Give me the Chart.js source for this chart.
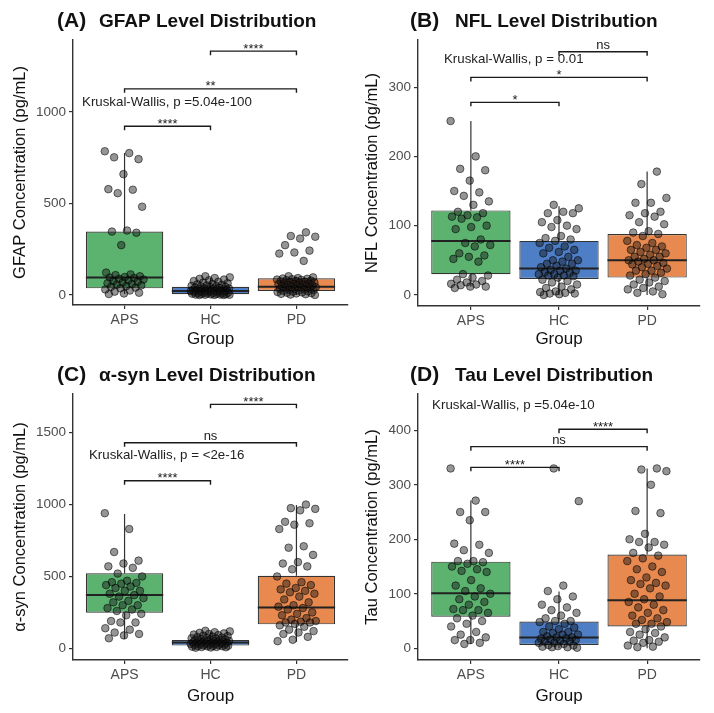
<!DOCTYPE html>
<html>
<head>
<meta charset="utf-8">
<script src="https://cdn.jsdelivr.net/npm/chart.js@4.4.0/dist/chart.umd.min.js"></script>
<style>
  body { margin: 0; background: #fff; width: 714px; height: 713px; position: relative; overflow: hidden; }
  .panel { position: absolute; width: 357px; }
</style>
</head>
<body>
<div class="panel" style="left:0;top:0;height:356px"><canvas id="chartA" width="357" height="356"></canvas></div>
<div class="panel" style="left:357px;top:0;height:356px"><canvas id="chartB" width="357" height="356"></canvas></div>
<div class="panel" style="left:0;top:355px;height:358px"><canvas id="chartC" width="357" height="358"></canvas></div>
<div class="panel" style="left:357px;top:355px;height:358px"><canvas id="chartD" width="357" height="358"></canvas></div>
<script>
const groups = ['APS', 'HC', 'PD'];
const boxColors = ['#5bb36f', '#4d7ec6', '#e8894f'];

// (A) GFAP
const gfapAPS = [785, 775, 752, 742, 660, 578, 575, 556, 482, 352, 346, 340, 272, 122, 112, 108, 102, 98, 95, 92, 88, 84, 80, 76, 72, 68, 64, 60, 56, 52, 48, 44, 40, 36, 30, 24, 18, 12, 8, 5];
const gfapHC = [102, 96, 92, 88, 84, 80, 76, 72, 68, 64, 60, 58, 55, 52, 50, 48, 46, 44, 42, 40, 38, 36, 35, 34, 32, 30, 29, 28, 27, 26, 25, 24, 23, 22, 21, 20, 19, 18, 17, 16, 15, 14, 13, 12, 11, 10, 9, 8, 7, 6, 5, 4, 3, 2, 2, 1, 1, 0, 0, 0];
const gfapPD = [342, 322, 318, 308, 272, 242, 232, 226, 186, 102, 96, 92, 90, 88, 86, 84, 82, 80, 78, 76, 74, 72, 70, 68, 66, 64, 62, 60, 58, 56, 54, 52, 50, 48, 46, 44, 42, 40, 38, 36, 34, 32, 30, 28, 26, 24, 22, 20, 18, 16, 14, 12, 10, 8, 6, 4, 2, 0];
const gfapQ1 = [36, 4, 22];
const gfapMedian = [95, 22, 45];
const gfapQ3 = [347, 45, 91];
const gfapLow = [5, 0, 0];
const gfapHigh = [775, 93, 100];
const gfapTicks = [0, 500, 1000];
const gfapBrackets = [[1, 2, 922, '****'], [1, 3, 1126, '**'], [2, 3, 1332, '****']];

// (B) NFL
const nflAPS = [251, 200, 182, 180, 165, 150, 148, 143, 135, 130, 120, 118, 115, 113, 112, 110, 100, 98, 95, 80, 75, 72, 70, 60, 57, 55, 52, 48, 30, 28, 25, 22, 20, 18, 16, 15, 14, 12, 12, 10];
const nflHC = [130, 125, 120, 118, 118, 108, 105, 100, 98, 95, 85, 82, 80, 78, 75, 70, 68, 65, 62, 60, 55, 50, 50, 48, 45, 45, 42, 40, 38, 36, 35, 35, 33, 32, 30, 30, 28, 28, 27, 25, 22, 20, 18, 15, 12, 10, 8, 5, 4, 3, 2, 2, 1, 0];
const nflPD = [178, 160, 140, 133, 133, 120, 118, 115, 113, 105, 102, 92, 90, 88, 85, 78, 75, 72, 70, 68, 65, 65, 62, 60, 58, 55, 55, 52, 50, 50, 48, 46, 45, 44, 42, 40, 38, 35, 35, 32, 30, 28, 25, 22, 20, 18, 15, 12, 10, 8, 5, 3, 1];
const nflQ1 = [30, 23, 25];
const nflMedian = [78, 38, 50];
const nflQ3 = [122, 78, 88];
const nflLow = [12, 0, 0];
const nflHigh = [251, 128, 178];
const nflTicks = [0, 100, 200, 300];
const nflBrackets = [[1, 2, 278, '*'], [1, 3, 314, '*'], [2, 3, 351, 'ns']];

// (C) alpha-syn
const synAPS = [940, 830, 670, 610, 590, 570, 560, 520, 500, 470, 460, 455, 450, 440, 430, 420, 400, 400, 380, 370, 360, 350, 330, 320, 300, 300, 280, 270, 260, 240, 230, 190, 180, 180, 140, 130, 110, 100, 90, 70];
const synHC = [122, 118, 112, 108, 104, 100, 96, 92, 88, 85, 82, 78, 75, 72, 70, 68, 65, 62, 60, 58, 56, 54, 52, 50, 48, 46, 44, 42, 40, 39, 38, 36, 35, 34, 32, 30, 29, 28, 26, 25, 24, 22, 20, 18, 17, 16, 15, 14, 12, 10, 9, 8, 6, 5];
const synPD = [1000, 975, 970, 960, 880, 870, 860, 830, 710, 700, 650, 600, 590, 570, 550, 500, 460, 450, 440, 420, 410, 400, 390, 380, 360, 340, 320, 300, 290, 280, 270, 250, 240, 230, 210, 200, 190, 185, 180, 180, 170, 160, 150, 130, 120, 110, 100, 80, 60, 50];
const synQ1 = [248, 19, 167];
const synMedian = [371, 40, 285];
const synQ3 = [522, 58, 505];
const synLow = [65, 5, 46];
const synHigh = [934, 115, 997];
const synTicks = [0, 500, 1000, 1500];
const synBrackets = [[1, 2, 1166, '****'], [1, 3, 1430, 'ns'], [2, 3, 1697, '****']];

// (D) Tau
const tauAPS = [330, 271, 250, 250, 235, 192, 190, 180, 175, 160, 160, 158, 155, 150, 145, 142, 140, 125, 115, 110, 105, 100, 95, 90, 85, 80, 72, 70, 70, 65, 60, 55, 50, 45, 40, 30, 25, 20, 15, 15, 10, 8];
const tauHC = [330, 270, 115, 105, 95, 90, 80, 75, 70, 65, 60, 55, 50, 50, 48, 45, 40, 38, 35, 30, 30, 28, 25, 25, 22, 20, 20, 18, 18, 16, 15, 14, 12, 12, 10, 10, 8, 6, 5, 4, 3, 2, 2, 1];
const tauPD = [330, 328, 325, 300, 252, 248, 210, 200, 195, 195, 190, 185, 175, 170, 165, 160, 150, 145, 140, 130, 125, 120, 118, 115, 110, 100, 95, 90, 85, 80, 75, 70, 65, 60, 55, 52, 48, 45, 45, 40, 35, 30, 28, 25, 20, 15, 14, 12, 10, 5, 3, 2];
const tauQ1 = [58, 6, 40];
const tauMedian = [101, 20, 88];
const tauQ3 = [159, 49, 172];
const tauLow = [8, 0, 0];
const tauHigh = [271, 104, 330];
const tauTicks = [0, 100, 200, 300, 400];
const tauBrackets = [[1, 2, 332, '****'], [1, 3, 370, 'ns'], [2, 3, 402, '****']];

const FONT = "'Liberation Sans', Arial, Helvetica, sans-serif";

const panels = [
    { id: 'chartA', tag: '(A)', title: 'GFAP Level Distribution', yTitle: 'GFAP Concentration (pg/mL)',
      values: [gfapAPS, gfapHC, gfapPD], q1: gfapQ1, median: gfapMedian, q3: gfapQ3, low: gfapLow, high: gfapHigh,
      ticks: gfapTicks, brackets: gfapBrackets, kw: 'Kruskal-Wallis, p =5.04e-100', kwX: 0.505, kwY: 1055,
      yMin: -55, yMax: 1393, area: { left: 73, right: 348, top: 40, bottom: 305 }, tagX: 57, titleX: 99, titleY: 27, yTitlePad: 11 },
    { id: 'chartB', tag: '(B)', title: 'NFL Level Distribution', yTitle: 'NFL Concentration (pg/mL)',
      values: [nflAPS, nflHC, nflPD], q1: nflQ1, median: nflMedian, q3: nflQ3, low: nflLow, high: nflHigh,
      ticks: nflTicks, brackets: nflBrackets, kw: 'Kruskal-Wallis, p = 0.01', kwX: 0.695, kwY: 340,
      yMin: -16, yMax: 368, area: { left: 61, right: 343, top: 40, bottom: 306 }, tagX: 53, titleX: 98, titleY: 27, yTitlePad: 6 },
    { id: 'chartC', tag: '(C)', title: 'α-syn Level Distribution', yTitle: 'α-syn Concentration (pg/mL)',
      values: [synAPS, synHC, synPD], q1: synQ1, median: synMedian, q3: synQ3, low: synLow, high: synHigh,
      ticks: synTicks, brackets: synBrackets, kw: 'Kruskal-Wallis, p = <2e-16', kwX: 0.586, kwY: 1345,
      yMin: -81, yMax: 1769, area: { left: 73, right: 348, top: 39, bottom: 305 }, tagX: 57, titleX: 99, titleY: 26, yTitlePad: 11 },
    { id: 'chartD', tag: '(D)', title: 'Tau Level Distribution', yTitle: 'Tau Concentration (pg/mL)',
      values: [tauAPS, tauHC, tauPD], q1: tauQ1, median: tauMedian, q3: tauQ3, low: tauLow, high: tauHigh,
      ticks: tauTicks, brackets: tauBrackets, kw: 'Kruskal-Wallis, p =5.04e-10', kwX: 0.56, kwY: 446,
      yMin: -21.5, yMax: 466.6, area: { left: 61, right: 343, top: 39, bottom: 305 }, tagX: 53, titleX: 98, titleY: 26, yTitlePad: 6 }
];

// even, repeatable spread of points around each group centre
function jitter(i, g) {
    const f = (i * 0.6180339 + g * 0.37) % 1;
    return (f - 0.5) * 2 * 0.23;
}

const boxPlugin = {
    id: 'boxExtras',
    beforeDatasetsDraw(chart) {
        const p = chart.config.options.plugins.boxExtras.panel;
        const { ctx, scales: { x, y } } = chart;
        ctx.save();
        ctx.strokeStyle = '#333';
        ctx.lineWidth = 1.2;
        groups.forEach((g, i) => {
            const px = x.getPixelForValue(i + 1);
            ctx.beginPath();
            ctx.moveTo(px, y.getPixelForValue(p.low[i]));
            ctx.lineTo(px, y.getPixelForValue(p.q1[i]));
            ctx.moveTo(px, y.getPixelForValue(p.q3[i]));
            ctx.lineTo(px, y.getPixelForValue(p.high[i]));
            ctx.stroke();
        });
        ctx.restore();
    },
    afterDatasetDraw(chart, args) {
        if (args.meta.type !== 'bar') return;
        const p = chart.config.options.plugins.boxExtras.panel;
        const { ctx, scales: { x, y } } = chart;
        ctx.save();
        ctx.strokeStyle = '#222';
        ctx.lineWidth = 2;
        groups.forEach((g, i) => {
            const py = y.getPixelForValue(p.median[i]);
            ctx.beginPath();
            ctx.moveTo(x.getPixelForValue(i + 1 - 0.45), py);
            ctx.lineTo(x.getPixelForValue(i + 1 + 0.45), py);
            ctx.stroke();
        });
        ctx.restore();
    },
    afterDraw(chart) {
        const p = chart.config.options.plugins.boxExtras.panel;
        const { ctx, scales: { x, y } } = chart;
        ctx.save();
        // significance brackets
        ctx.strokeStyle = '#1a1a1a';
        ctx.fillStyle = '#1a1a1a';
        ctx.lineWidth = 1.4;
        ctx.textAlign = 'center';
        p.brackets.forEach(([a, b, level, label]) => {
            const x1 = x.getPixelForValue(a), x2 = x.getPixelForValue(b);
            const py = y.getPixelForValue(level);
            ctx.beginPath();
            ctx.moveTo(x1, py + 4);
            ctx.lineTo(x1, py);
            ctx.lineTo(x2, py);
            ctx.lineTo(x2, py + 4);
            ctx.stroke();
            ctx.font = '13px ' + FONT;
            ctx.textBaseline = 'alphabetic';
            ctx.fillText(label, (x1 + x2) / 2, label === 'ns' ? py - 3 : py + 1.5);
        });
        // Kruskal-Wallis label
        ctx.fillStyle = '#222';
        ctx.textAlign = 'left';
        ctx.textBaseline = 'middle';
        ctx.font = '13.3px ' + FONT;
        ctx.fillText(p.kw, x.getPixelForValue(p.kwX), y.getPixelForValue(p.kwY));
        // panel tag and title
        ctx.fillStyle = '#111';
        ctx.textBaseline = 'alphabetic';
        ctx.font = 'bold 21px ' + FONT;
        ctx.fillText(p.tag, p.tagX, p.titleY);
        ctx.font = 'bold 19px ' + FONT;
        ctx.fillText(p.title, p.titleX, p.titleY);
        ctx.restore();
    }
};

panels.forEach(p => {
    const canvas = document.getElementById(p.id);
    const W = canvas.width, H = canvas.height;
    const points = [];
    p.values.forEach((vals, g) => {
        vals.forEach((v, i) => points.push({ x: g + 1 + jitter(i, g), y: v }));
    });
    const boxes = groups.map((g, i) => ({ x: i + 1, y: [p.q1[i], p.q3[i]] }));

    new Chart(canvas.getContext('2d'), {
        type: 'bar',
        data: {
            datasets: [{
                type: 'scatter',
                data: points,
                backgroundColor: 'rgba(20, 20, 20, 0.45)',
                borderColor: 'rgba(0, 0, 0, 0.6)',
                borderWidth: 0.9,
                pointRadius: 3.8,
                order: 0
            }, {
                type: 'bar',
                data: boxes,
                backgroundColor: boxColors,
                borderColor: '#333',
                borderWidth: 1.2,
                borderSkipped: false,
                barPercentage: 0.9,
                categoryPercentage: 1,
                order: 1
            }]
        },
        options: {
            responsive: false,
            animation: false,
            layout: { padding: { top: p.area.top, right: W - p.area.right, bottom: 0, left: 0 } },
            plugins: {
                legend: { display: false },
                tooltip: { enabled: false },
                boxExtras: { panel: p }
            },
            scales: {
                x: {
                    type: 'linear',
                    min: 0.4,
                    max: 3.6,
                    offset: false,
                    afterBuildTicks: scale => { scale.ticks = groups.map((g, i) => ({ value: i + 1 })); },
                    afterFit: scale => { scale.height = H - p.area.bottom; },
                    grid: { offset: false, drawOnChartArea: false, drawTicks: true, tickLength: 4, color: '#333', lineWidth: 1.2 },
                    border: { display: true, color: '#333', width: 1.4 },
                    ticks: {
                        autoSkip: false,
                        maxRotation: 0,
                        padding: 3,
                        color: '#4d4d4d',
                        font: { family: FONT, size: 14 },
                        callback: value => groups[value - 1]
                    },
                    title: { display: true, text: 'Group', color: '#111', font: { family: FONT, size: 17 }, padding: { top: 0, bottom: 6 } }
                },
                y: {
                    type: 'linear',
                    min: p.yMin,
                    max: p.yMax,
                    afterBuildTicks: scale => { scale.ticks = p.ticks.map(v => ({ value: v })); },
                    afterFit: scale => { scale.width = p.area.left; },
                    grid: { drawOnChartArea: false, drawTicks: true, tickLength: 4, color: '#333', lineWidth: 1.2 },
                    border: { display: true, color: '#333', width: 1.4 },
                    ticks: {
                        padding: 3,
                        color: '#4d4d4d',
                        font: { family: FONT, size: 13.5 },
                        callback: value => String(value)
                    },
                    title: { display: true, text: p.yTitle, color: '#111', font: { family: FONT, size: 16.5 }, padding: { top: p.yTitlePad, bottom: 0 } }
                }
            }
        },
        plugins: [boxPlugin]
    });
});
</script>
</body>
</html>
